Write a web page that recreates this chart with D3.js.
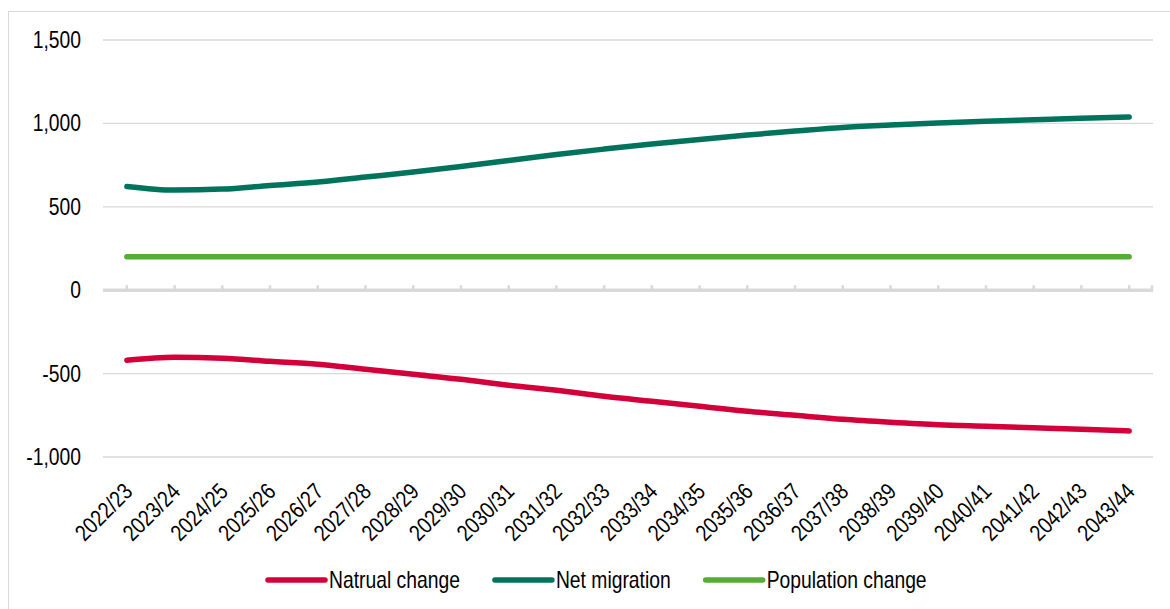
<!DOCTYPE html>
<html>
<head>
<meta charset="utf-8">
<script src="https://cdn.jsdelivr.net/npm/d3@7"></script>
<style>
  body { margin: 0; background: #fff; }
  svg text { font-family: "Liberation Sans", Arial, sans-serif; fill: #000; }
</style>
</head>
<body>
<div id="chart"></div>
<script>
// categories (financial years)
const years = ['2022/23','2023/24','2024/25','2025/26','2026/27','2027/28','2028/29','2029/30',
  '2030/31','2031/32','2032/33','2033/34','2034/35','2035/36','2036/37','2037/38','2038/39',
  '2039/40','2040/41','2041/42','2042/43','2043/44']

// series values
const naturalChange = [-420,-402,-408,-426,-444,-474,-504,-534,-570,-600,-636,-666,-696,-726,
  -750,-774,-792,-807,-816,-825,-834,-844]
const netMigration = [622,600,606,628,648,678,708,742,778,814,846,876,904,930,954,976,990,
  1002,1013,1022,1031,1039]
const populationChange = [200,200,200,200,200,200,200,200,200,200,200,200,200,200,200,200,200,
  200,200,200,200,200]

const yTicks = [-1000,-500,0,500,1000,1500]

const seriesList = [
  { name: 'Natrual change', values: naturalChange, color: '#d3003a' },
  { name: 'Net migration', values: netMigration, color: '#00735d' },
  { name: 'Population change', values: populationChange, color: '#53ae33' }
]

const W = 1170, H = 609
const plot = { left: 103, right: 1153, top: 40, bottom: 457 }
const narrow = 0.84   // squeeze Arial-like font to look like Arial Narrow
const fs = '23px'

const fmt = d3.formatLocale({ decimal: '.', thousands: ',', grouping: [3], currency: ['', ''], minus: '-' }).format(',')

let svg = d3.select('#chart').append('svg')
  .attr('width', W)
  .attr('height', H)

// outer chart border (runs off the right/bottom edge like the source)
svg.append('rect')
  .attr('x', 8.5).attr('y', 11.5)
  .attr('width', 1200).attr('height', 700)
  .attr('fill', 'none')
  .attr('stroke', '#d9d9d9')

let x = d3.scalePoint()
  .domain(years)
  .range([plot.left, plot.right])
  .padding(0.5)

let y = d3.scaleLinear()
  .domain([-1000, 1500])
  .range([plot.bottom, plot.top])

// gridlines
svg.append('g')
  .selectAll('line')
  .data(yTicks.filter(d => d !== 0))
  .join('line')
  .attr('x1', plot.left).attr('x2', plot.right)
  .attr('y1', d => y(d)).attr('y2', d => y(d))
  .attr('stroke', '#d9d9d9')
  .attr('stroke-width', 1.3)

// y labels
svg.append('g')
  .selectAll('text')
  .data(yTicks)
  .join('text')
  .attr('transform', d => `translate(81,${y(d)}) scale(${narrow},1)`)
  .attr('dy', '0.35em')
  .attr('text-anchor', 'end')
  .style('font-size', fs)
  .text(d => fmt(d))

// zero axis with small upward ticks
let zero = svg.append('g')
zero.append('line')
  .attr('x1', plot.left).attr('x2', plot.right)
  .attr('y1', y(0)).attr('y2', y(0))
  .attr('stroke', '#d9d9d9')
  .attr('stroke-width', 3.5)
zero.selectAll('.tk')
  .data(years.map(d => x(d)).concat([plot.right - 1]))
  .join('line')
  .attr('class', 'tk')
  .attr('x1', d => d).attr('x2', d => d)
  .attr('y1', y(0)).attr('y2', y(0) - 5)
  .attr('stroke', '#d9d9d9')
  .attr('stroke-width', 2.5)

// x labels, rotated
svg.append('g')
  .selectAll('text')
  .data(years)
  .join('text')
  .attr('text-anchor', 'end')
  .attr('transform', d => `translate(${x(d) + 7},${plot.bottom + 36}) rotate(-45) scale(${narrow},1)`)
  .style('font-size', fs)
  .text(d => d)

// lines
let line = d3.line()
  .x((d, i) => x(years[i]))
  .y(d => y(d))
  .curve(d3.curveMonotoneX)

svg.append('g')
  .selectAll('path')
  .data(seriesList)
  .join('path')
  .attr('d', d => line(d.values))
  .attr('fill', 'none')
  .attr('stroke', d => d.color)
  .attr('stroke-width', 5.5)
  .attr('stroke-linecap', 'round')
  .attr('stroke-linejoin', 'round')

// legend
let legend = svg.append('g')
let lx = 268
const ly = 580
seriesList.forEach(s => {
  legend.append('line')
    .attr('x1', lx).attr('x2', lx + 57)
    .attr('y1', ly).attr('y2', ly)
    .attr('stroke', s.color)
    .attr('stroke-width', 5.5)
    .attr('stroke-linecap', 'round')
  let t = legend.append('text')
    .attr('transform', `translate(${lx + 61},${ly}) scale(${narrow},1)`)
    .attr('dy', '0.35em')
    .style('font-size', fs)
    .text(s.name)
  lx += 61 + t.node().getComputedTextLength() * narrow + 35
})
</script>
</body>
</html>
